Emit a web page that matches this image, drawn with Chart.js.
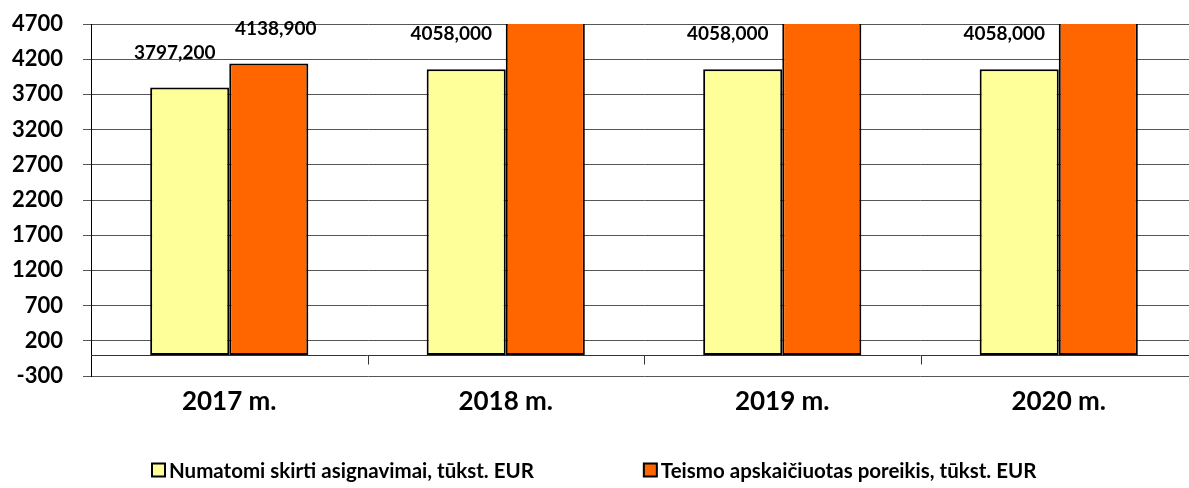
<!DOCTYPE html>
<html><head><meta charset="utf-8">
<script src="https://cdn.jsdelivr.net/npm/chart.js@4.4.0/dist/chart.umd.min.js"></script>
<style>
html,body{margin:0;padding:0;background:#fff;overflow:hidden;width:1189px;height:488px}
#wrap{position:absolute;left:0;top:0;width:1200px;height:488px}
</style>
</head><body><div id="wrap"><canvas id="c"></canvas></div>
<script>
const categories = ['2017 m.', '2018 m.', '2019 m.', '2020 m.'];
const seriesNames = ['Numatomi skirti asignavimai, tūkst. EUR', 'Teismo apskaičiuotas poreikis, tūkst. EUR'];
const allocated = [3797.2, 4058.0, 4058.0, 4058.0];
const required = [4138.9, 5300, 5300, 5300];
const yTicks = [-300, 200, 700, 1200, 1700, 2200, 2700, 3200, 3700, 4200, 4700];

const FONT = 'Lato, Carlito, "Open Sans", sans-serif';
const W = 'bold';
const fmt = v => v.toFixed(3).replace('.', ',');

const zeroAxis = {
  id: 'zeroAxis',
  beforeDatasetsDraw(chart) {
    const {ctx, chartArea: a, scales: {y}} = chart;
    const y0 = Math.round(y.getPixelForValue(0)) + 0.5;
    ctx.save();
    ctx.strokeStyle = '#333';
    ctx.lineWidth = 1;
    ctx.beginPath();
    ctx.moveTo(a.left, y0); ctx.lineTo(a.right, y0);
    for (let i = 1; i <= categories.length; i++) {
      const bx = Math.round(a.left + (a.right - a.left) * i / categories.length) + 0.5;
      ctx.moveTo(bx, y0); ctx.lineTo(bx, y0 + 9);
    }
    ctx.stroke();
    ctx.restore();
  }
};

const valueLabels = {
  id: 'valueLabels',
  afterDatasetsDraw(chart) {
    const {ctx, scales: {y}} = chart;
    ctx.save();
    ctx.font = W + ' 19px ' + FONT;
    ctx.fillStyle = '#000';
    ctx.textAlign = 'center';
    ctx.textBaseline = 'middle';
    chart.data.datasets.forEach((ds, di) => {
      const meta = chart.getDatasetMeta(di);
      meta.data.forEach((bar, i) => {
        const v = ds.data[i];
        if (v > y.max) return;
        ctx.fillText(fmt(v), bar.x + ds.labelDx, bar.y - 35);
      });
    });
    ctx.restore();
  }
};

const bottomLegend = {
  id: 'bottomLegend',
  afterDraw(chart) {
    const {ctx} = chart;
    ctx.save();
    ctx.font = W + ' 20.5px ' + FONT;
    ctx.textBaseline = 'middle';
    ctx.textAlign = 'left';
    const box = 13, gapText = 4, gapItem = 110;
    const items = chart.data.datasets.map(ds => ({text: ds.label, color: ds.backgroundColor, w: ctx.measureText(ds.label).width}));
    let total = 0;
    items.forEach((it, i) => { total += box + gapText + it.w + (i ? gapItem : 0); });
    let xPos = Math.round(1189 / 2 - total / 2);
    const yc = 470;
    items.forEach((it, i) => {
      if (i) xPos += gapItem;
      ctx.fillStyle = it.color;
      ctx.fillRect(xPos, yc - box / 2, box, box);
      ctx.strokeStyle = '#000';
      ctx.lineWidth = 2;
      ctx.strokeRect(xPos, yc - box / 2, box, box);
      ctx.fillStyle = '#000';
      ctx.fillText(it.text, xPos + box + gapText, yc + 1);
      xPos += box + gapText + it.w;
    });
    ctx.restore();
  }
};

new Chart(document.getElementById('c'), {
  type: 'bar',
  data: {
    labels: categories,
    datasets: [
      {label: seriesNames[0], data: allocated, backgroundColor: '#FFFF99', borderColor: '#000', borderWidth: 2, borderSkipped: false, labelDx: -15},
      {label: seriesNames[1], data: required, backgroundColor: '#FF6600', borderColor: '#000', borderWidth: 2, borderSkipped: false, labelDx: 7}
    ]
  },
  options: {
    responsive: true,
    maintainAspectRatio: false,
    animation: false,
    layout: {padding: {top: 24, right: 3, bottom: 40, left: 0}},
    datasets: {bar: {categoryPercentage: 0.572, barPercentage: 1.0}},
    plugins: {legend: {display: false}, tooltip: {enabled: false}},
    scales: {
      x: {
        grid: {display: false},
        border: {display: false},
        ticks: {color: '#000', padding: 2, font: {family: FONT, size: 26, weight: W}},
        afterFit(s) { s.height = 72; s.paddingLeft = 0; s.paddingRight = 0; }
      },
      y: {
        min: -300, max: 4700,
        afterBuildTicks(s) { s.ticks = yTicks.map(v => ({value: v})); },
        grid: {color: '#555', lineWidth: 1, tickLength: 8},
        border: {display: true, color: '#000', width: 1},
        ticks: {color: '#000', padding: 20, font: {family: FONT, size: 22, weight: W}, callback: v => String(v)},
        afterFit(s) { s.width = 91; s.paddingTop = 0; s.paddingBottom = 0; }
      }
    }
  },
  plugins: [zeroAxis, valueLabels, bottomLegend]
});
</script>
</body></html>
